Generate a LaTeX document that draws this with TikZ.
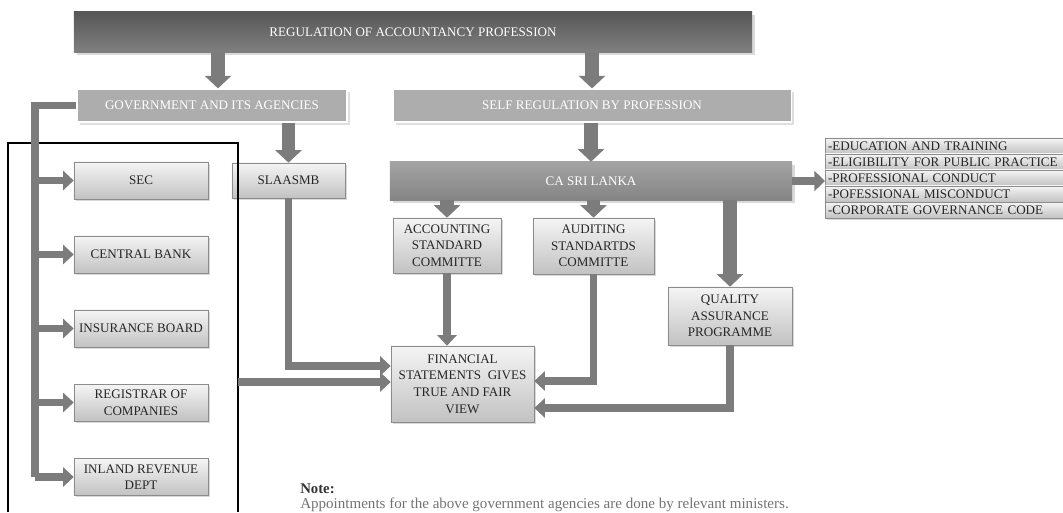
\documentclass[tikz,border=0pt]{standalone}
\usepackage{fontspec}
\setmainfont{Liberation Serif}
\usepackage{tikz}
\usetikzlibrary{arrows.meta,positioning,calc,shadows}

\definecolor{arrowgray}{HTML}{7C7C7C}
\tikzset{
  box/.style={draw=black!45, top color=black!4, bottom color=black!24,
    drop shadow={opacity=0.3, shadow xshift=1.2pt, shadow yshift=-1.2pt},
    align=center, text=black!85, inner sep=1pt,
    font=\fontsize{9.3}{11.8}\selectfont},
  headbar/.style={top color=black!66, bottom color=black!50, text=white,
    drop shadow={opacity=0.3}, font=\fontsize{9.3}{11.8}\selectfont},
  subbar/.style={fill=black!32, text=white, draw=white, line width=0.8pt,
    drop shadow={opacity=0.25}, font=\fontsize{9.3}{11.8}\selectfont},
  castyle/.style={top color=black!36, bottom color=black!48, text=white,
    drop shadow={opacity=0.3}, font=\fontsize{9.3}{11.8}\selectfont},
  listbox/.style={box, align=left, anchor=west, text width=5.8cm,
    minimum height=0.4cm, inner xsep=2pt},
  bigarrow/.style={draw=arrowgray, line width=9.5pt,
    -{Triangle[width=18.5pt,length=9pt]}},
  midarrow/.style={draw=arrowgray, line width=6pt,
    -{Triangle[width=14pt,length=7.5pt]}},
  smallarrow/.style={draw=arrowgray, line width=5.5pt,
    -{Triangle[width=13.5pt,length=7.5pt]}},
  conn/.style={draw=arrowgray, line width=5.5pt},
}

\begin{document}
\begin{tikzpicture}[x=0.025cm, y=-0.025cm]
  \useasboundingbox (0,0) rectangle (1063,512);

  % header bars
  \node[headbar, minimum width=16.95cm, minimum height=1cm] (top) at (413,32) {REGULATION OF ACCOUNTANCY PROFESSION};
  \node[subbar, minimum width=6.75cm, minimum height=0.825cm] (gov) at (212,105.5) {GOVERNMENT AND ITS AGENCIES};
  \node[subbar, minimum width=9.95cm, minimum height=0.825cm] (self) at (592,105.5) {SELF REGULATION BY PROFESSION};

  % second level
  \node[box, minimum width=2.825cm, minimum height=0.875cm] (slaasmb) at (288.5,180.5) {SLAASMB};
  \node[castyle, minimum width=10.05cm, minimum height=0.95cm] (ca) at (591,181) {CA SRI LANKA};

  % committees
  \node[box, minimum width=2.7cm, minimum height=1.375cm] (acc) at (447,245.5) {ACCOUNTING\\STANDARD\\COMMITTE};
  \node[box, minimum width=3.025cm, minimum height=1.4cm] (aud) at (593.5,246) {AUDITING\\STANDARTDS\\COMMITTE};
  \node[box, minimum width=3.1cm, minimum height=1.45cm] (qap) at (730,316) {QUALITY\\ASSURANCE\\PROGRAMME};
  \node[box, minimum width=3.575cm, minimum height=1.9cm] (fin) at (462.5,384) {FINANCIAL\\STATEMENTS\ \ GIVES\\TRUE AND FAIR\\VIEW};

  % list of functions
  \node[listbox] (l1) at (825,146) {-EDUCATION AND TRAINING};
  \node[listbox] (l2) at (825,162) {-ELIGIBILITY FOR PUBLIC PRACTICE};
  \node[listbox] (l3) at (825,178) {-PROFESSIONAL CONDUCT};
  \node[listbox] (l4) at (825,194) {-POFESSIONAL MISCONDUCT};
  \node[listbox] (l5) at (825,210) {-CORPORATE GOVERNANCE CODE};

  % government agencies
  \node[box, minimum width=3.35cm, minimum height=0.925cm] (sec) at (141,180.5) {SEC};
  \node[box, minimum width=3.35cm, minimum height=0.925cm] (cbank) at (141,254.5) {CENTRAL BANK};
  \node[box, minimum width=3.35cm, minimum height=0.925cm] (ib) at (141,328.5) {INSURANCE BOARD};
  \node[box, minimum width=3.35cm, minimum height=0.925cm] (roc) at (141,402.5) {REGISTRAR OF\\COMPANIES};
  \node[box, minimum width=3.35cm, minimum height=0.925cm] (ird) at (141,477) {INLAND REVENUE\\DEPT};

  % frame round the agencies
  \draw[line width=1.6pt] (8,512) -- (8,143) -- (238,143) -- (238,512);

  % arrows from the top
  \coordinate (gtop) at ($(gov.north)+(6,0)$);
  \draw[bigarrow] (gtop |- top.south) -- (gtop);
  \draw[bigarrow] (self.north |- top.south) -- (self.north);
  \draw[bigarrow] (gov.south -| slaasmb.north) -- (slaasmb.north);
  \draw[bigarrow] (self.south -| ca.north) -- (ca.north);

  % from CA Sri Lanka
  \draw[bigarrow] (acc.north |- ca.south) -- (acc.north);
  \draw[bigarrow] (aud.north |- ca.south) -- (aud.north);
  \draw[bigarrow] (qap.north |- ca.south) -- (qap.north);
  \draw[midarrow] (ca.east) -- (ca.east -| l3.west);

  % trunk to the agencies
  \coordinate (trtop) at (35,105.5);
  \coordinate (trbot) at (35,477);
  \draw[conn] (gov.west) -- (trtop) -- (trbot);
  \foreach \n in {sec,cbank,ib,roc,ird}
    \draw[smallarrow] (trtop |- \n.west) -- (\n.west);

  % into the financial statements
  \draw[smallarrow] (acc.south) -- (acc.south |- fin.north);
  \draw[smallarrow] (slaasmb.south) |- ($(fin.west)+(0,-18)$);
  \coordinate (frameR) at (238,382);
  \draw[smallarrow] (frameR) -- (frameR -| fin.west);
  \draw[smallarrow] (aud.south) |- ($(fin.east)+(0,-3)$);
  \draw[smallarrow] (qap.south) |- ($(fin.east)+(0,24)$);

  % note
  \node[anchor=west, font=\fontsize{10.5}{11}\selectfont\bfseries, text=black!80, inner sep=0] (note) at (300,489) {Note:};
  \node[anchor=west, font=\fontsize{10.7}{11}\selectfont, text=black!55, inner sep=0] (appt) at (300,505) {Appointments for the above government agencies are done by relevant ministers.};
\end{tikzpicture}
\end{document}
